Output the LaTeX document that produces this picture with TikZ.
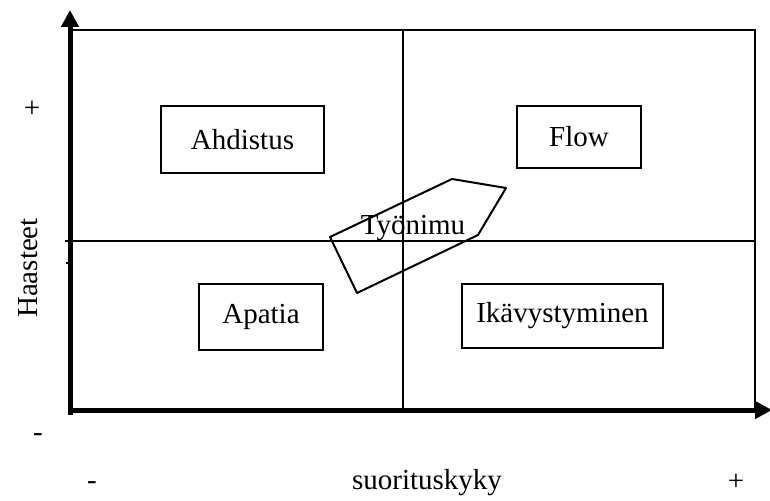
\documentclass[tikz,border=0pt]{standalone}
\usepackage{fontspec}
\setmainfont{Liberation Serif}
\usetikzlibrary{arrows.meta}
\begin{document}
\begin{tikzpicture}[x=1pt,y=-1pt,
  thin line/.style={line width=2pt},
  axis/.style={line width=5pt,-{Triangle[length=17pt,width=17pt]}},
  label/.style={font=\fontsize{29}{33}\selectfont, inner sep=0pt},
  quad/.style={draw, line width=2pt, anchor=north west}]
\useasboundingbox (0,0) rectangle (770,500);
% frame and quadrant dividers
\draw[thin line] (72,30) rectangle (755,410);
\coordinate (vt) at (403,30);
\coordinate (vb) at (403,410);
\coordinate (hl) at (65,241);
\coordinate (hr) at (755,241);
\draw[thin line] (vt) -- (vb);
\draw[thin line] (hl) -- (hr);
\draw[line width=1.5pt] (66,263) -- (72,263);
% axes
\coordinate (ytop) at (70,10);
\coordinate (xend) at (772,410);
\draw[axis] (70,415) -- (ytop);
\draw[axis] (68,410) -- (xend);
% quadrant boxes
\node[quad, minimum width=163pt, minimum height=67pt] (ahd) at (160,105) {};
\node[label] at (ahd.center) {Ahdistus};
\node[quad, minimum width=124pt, minimum height=62pt] (flow) at (516,105) {};
\node[label] at (flow.center) {Flow};
\node[quad, minimum width=124pt, minimum height=66pt] (apa) at (198,283) {};
\node[label] at (apa.center) {Apatia};
\node[quad, minimum width=201pt, minimum height=64pt] (ika) at (461,283) {};
\node[label] at (ika.center) {Ikävystyminen};
% job title shape
\draw[thin line, line join=round] (330,237) -- (452,179) -- (506,188) -- (478,235) -- (357,293) -- cycle;
\node[label] (tyo) at (413,228) {Työnimu};
% axis labels
\node[label] (yp) at (32,109) {+};
\node[label, rotate=90] (yl) at (28,268) {Haasteet};
\node[label] (ym) at (38,438) {-};
\node[label] (xm) at (92,486) {-};
\node[label] (xl) at (427,483) {suorituskyky};
\node[label] (xp) at (736,482) {+};
\end{tikzpicture}
\end{document}
